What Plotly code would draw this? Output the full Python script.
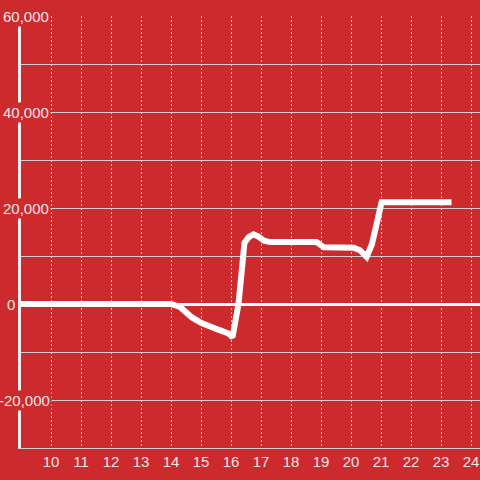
import plotly.graph_objects as go

# Data
x_vals = [9.0, 10, 11, 12, 13, 14.0, 14.3, 14.7, 15.0, 15.3, 15.6, 15.9, 16.05,
          16.25, 16.45, 16.6, 16.75, 16.9, 17.1, 17.3, 18.85, 19.1, 20.1, 20.3,
          20.52, 20.7, 20.85, 21.02, 23.35]
y_vals = [0, 0, 0, 0, 0, 0, -600, -2800, -3900, -4800, -5400, -6100, -6900,
          0, 12800, 14000, 14500, 14100, 13200, 12900, 12900, 11800, 11700, 11200,
          9800, 12500, 16800, 21200, 21200]

x_tick_vals = list(range(10, 25))
y_label_vals = [60000, 40000, 20000, 0, -20000]
y_label_text = ["60,000", "40,000", "20,000", "0", "-20,000"]
y_label_shift = [30, 30, 30, -4, 31]

BG = "#CD2A2E"
TXT = "#F0E6E6"
FONT = "Liberation Sans, Arial, sans-serif"

fig = go.Figure()
fig.add_trace(go.Scatter(x=x_vals, y=y_vals, mode="lines",
                         line=dict(color="#FFFFFF", width=6),
                         hoverinfo="skip", showlegend=False))

annotations = []
for v, t, s in zip(y_label_vals, y_label_text, y_label_shift):
    annotations.append(dict(
        x=0, xref="paper", y=v, yref="y", text=t, showarrow=False,
        xanchor="right", yanchor="middle", xshift=s,
        bgcolor=BG, borderpad=1,
        font=dict(family=FONT, size=15, color=TXT)))

fig.update_layout(
    width=480, height=480,
    margin=dict(l=21, r=0, t=16, b=32),
    paper_bgcolor=BG, plot_bgcolor=BG,
    showlegend=False,
    annotations=annotations,
    xaxis=dict(
        range=[9, 24.3], tickvals=x_tick_vals,
        showgrid=True, gridcolor="#D8D8D8", gridwidth=1, griddash="2px,2px",
        showline=True, linecolor="#D0D0D0", linewidth=1,
        zeroline=False, ticks="",
        tickfont=dict(family=FONT, size=15, color=TXT),
        fixedrange=True,
    ),
    yaxis=dict(
        range=[-30000, 60000], dtick=10000, showticklabels=False,
        showgrid=True, gridcolor="#D0D0D0", gridwidth=1,
        showline=True, linecolor="#EEEEEE", linewidth=3,
        zeroline=True, zerolinecolor="#FFFFFF", zerolinewidth=3,
        ticks="", fixedrange=True,
    ),
)

fig.write_html(
    "out.html",
    config={"displayModeBar": False},
    post_script="document.body.style.margin='0';document.body.style.padding='0';document.body.style.overflow='hidden';",
)
